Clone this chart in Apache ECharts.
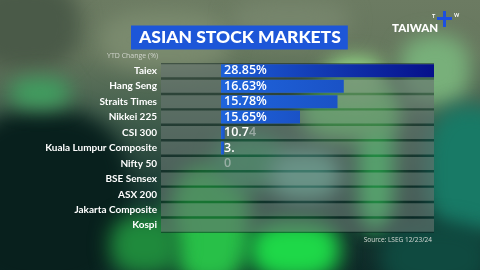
<!DOCTYPE html>
<html><head><meta charset="utf-8">
<script src="https://cdn.jsdelivr.net/npm/echarts@6/dist/echarts.min.js"></script>
<style>
html,body{margin:0;padding:0;width:480px;height:270px;overflow:hidden;background:#1b3a34;}
#bg{position:absolute;left:0;top:0;width:480px;height:270px;overflow:hidden;
 background:linear-gradient(180deg,#6c7b62 0%,#66775e 20%,#44604e 42%,#1a3a34 70%,#0e2a28 100%);}
#bg div{position:absolute;border-radius:40%;filter:blur(10px);}
#chart{position:absolute;left:0;top:0;width:480px;height:270px;}
</style></head>
<body>
<div id="bg">
 <div style="left:-30px;top:-20px;width:110px;height:90px;background:#4a5a48"></div>
 <div style="left:-40px;top:110px;width:170px;height:180px;background:#08201d"></div>
 <div style="left:10px;top:78px;width:60px;height:30px;background:#40a060"></div>
 <div style="left:170px;top:165px;width:80px;height:120px;background:#28c048"></div>
 <div style="left:110px;top:215px;width:70px;height:60px;background:#1f8a3c"></div>
 <div style="left:250px;top:220px;width:90px;height:60px;background:#1ed848"></div>
 <div style="left:215px;top:135px;width:70px;height:55px;background:#2e9a60"></div>
 <div style="left:358px;top:115px;width:36px;height:115px;background:#3ef06a"></div>
 <div style="left:300px;top:80px;width:100px;height:60px;background:#70e070"></div>
 <div style="left:325px;top:58px;width:60px;height:45px;background:#98e088"></div>
 <div style="left:400px;top:35px;width:70px;height:70px;background:#78b07a"></div>
 <div style="left:425px;top:105px;width:90px;height:130px;background:#187a66"></div>
 <div style="left:380px;top:222px;width:110px;height:70px;background:#0f4a40"></div>
 <div style="left:270px;top:150px;width:70px;height:50px;background:#70c8b0"></div>
 <div style="left:100px;top:10px;width:130px;height:60px;background:#7a8a6e"></div>
 <div style="left:230px;top:0px;width:120px;height:40px;background:#76856c"></div>
</div>
<div id="chart"></div>
<script>
var categories = ['Taiex','Hang Seng','Straits Times','Nikkei 225','CSI 300','Kuala Lumpur Composite','Nifty 50','BSE Sensex','ASX 200','Jakarta Composite','Kospi'];
var barValues = [28.85, 16.63, 15.78, 10.7, 0.5, 0.4, 0, 0, 0, 0, 0];
var labelMain = ['28.85%','16.63%','15.78%','15.65%','10.7','3.','','','','',''];
var labelFade = ['','','','','4','','0','','','',''];

var chart = echarts.init(document.getElementById('chart'));
var data = barValues.map(function(v,i){
  var color = i === 0
    ? new echarts.graphic.LinearGradient(0,0,1,0,[{offset:0,color:'#1d60d8'},{offset:1,color:'#06108a'}])
    : new echarts.graphic.LinearGradient(0,0,1,0,[{offset:0,color:'#1f64dc'},{offset:1,color:'#1a52c6'}]);
  return {value:v, itemStyle:{color:color}};
});
chart.setOption({
  animation:false,
  backgroundColor:'transparent',
  title:{
    text:'ASIAN STOCK MARKETS', left:131, top:27,
    backgroundColor:'#1d56d8', padding:[3,7,3,8],
    textStyle:{color:'#fff', fontFamily:'Lato', fontWeight:900, fontSize:17.5, lineHeight:15}
  },
  grid:{left:161, right:46, top:63, bottom:37},
  xAxis:{type:'value', min:-8.13, max:28.85, show:false},
  yAxis:{type:'category', data:categories, inverse:true,
    axisLine:{show:false}, axisTick:{show:false}, splitLine:{show:false},
    axisLabel:{color:'#fff', fontFamily:'Lato', fontWeight:700, fontSize:10, margin:4}},
  graphic:[
    {type:'rect', z:0, shape:{x:161,y:63,width:273,height:170}, style:{fill:'rgba(5,25,25,0.45)'}},
    {type:'text', left:107, top:52, style:{text:'YTD Change (%)', fill:'#d0d4cc', fontFamily:'Open Sans', fontSize:7}},
    {type:'text', right:48, top:237, style:{text:'Source: LSEG 12/23/24', fill:'#d8dcd8', fontFamily:'Open Sans', fontSize:6.5}},
    {type:'text', left:392, top:22, style:{text:'TAIWAN', fill:'#fff', fontFamily:'Lato', fontWeight:900, fontSize:11.5}},
    {type:'text', left:432, top:13, style:{text:'T', fill:'#fff', fontFamily:'Lato', fontWeight:700, fontSize:5.5}},
    {type:'text', left:454, top:13, style:{text:'W', fill:'#fff', fontFamily:'Lato', fontWeight:700, fontSize:5}},
    {type:'rect', shape:{x:437,y:17,width:15,height:3}, style:{fill:'#1d4fe0'}},
    {type:'rect', shape:{x:443,y:11,width:3,height:16}, style:{fill:'#1d4fe0'}}
  ],
  series:[{
    type:'bar', data:data, barWidth:13,
    showBackground:true,
    backgroundStyle:{color:'rgba(190,200,190,0.33)'},
    label:{show:true, position:'insideLeft', distance:3,
      formatter:function(p){
        var s='';
        if(labelMain[p.dataIndex]) s+='{a|'+labelMain[p.dataIndex]+'}';
        if(labelFade[p.dataIndex]) s+='{b|'+labelFade[p.dataIndex]+'}';
        return s;
      },
      rich:{
        a:{color:'#fff', fontFamily:'Open Sans', fontWeight:600, fontSize:12.5},
        b:{color:'rgba(200,205,205,0.6)', fontFamily:'Open Sans', fontWeight:600, fontSize:12.5}
      }
    }
  }]
});
</script>
</body></html>
